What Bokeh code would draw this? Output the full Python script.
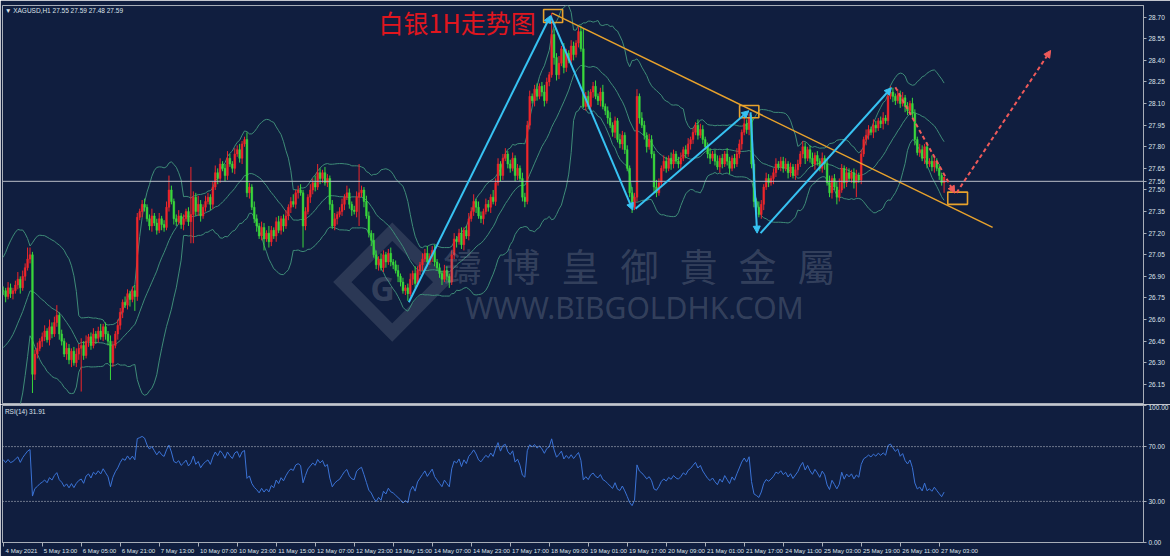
import numpy as np
import pandas as pd
from bokeh.plotting import figure
from bokeh.layouts import column
from bokeh.models import (ColumnDataSource, Range1d, FixedTicker, Span, Label,
                          Arrow, NormalHead, PrintfTickFormatter, LinearAxis)
from bokeh.embed import file_html
from bokeh.resources import INLINE

# ---------------- data (prices in US cents, one row = 16 hourly bars) ----------------
close_c = [
    2680, 2676, 2682, 2678, 2680, 2684, 2688, 2682, 2690, 2696, 2702, 2705, 2622, 2636, 2640, 2645,
    2648, 2652, 2646, 2655, 2650, 2658, 2663, 2650, 2645, 2636, 2640, 2632, 2638, 2630, 2636, 2640,
    2642, 2635, 2645, 2648, 2642, 2650, 2647, 2652, 2648, 2655, 2650, 2645, 2630, 2642, 2650, 2656,
    2665, 2672, 2670, 2678, 2674, 2680, 2676, 2731, 2735, 2740, 2738, 2730, 2725, 2732, 2727, 2722,
    2730, 2726, 2724, 2738, 2750, 2742, 2730, 2728, 2732, 2726, 2730, 2735, 2728, 2733, 2745, 2735,
    2740, 2732, 2738, 2742, 2745, 2740, 2752, 2762, 2758, 2768, 2765, 2760, 2772, 2768, 2765, 2775,
    2778, 2772, 2782, 2785, 2748, 2752, 2738, 2730, 2725, 2718, 2724, 2716, 2720, 2714, 2722, 2718,
    2728, 2722, 2730, 2725, 2732, 2738, 2742, 2740, 2748, 2750, 2748, 2725, 2735, 2745, 2750, 2755,
    2752, 2762, 2758, 2762, 2755, 2758, 2740, 2725, 2730, 2733, 2735, 2740, 2745, 2748, 2740, 2736,
    2735, 2745, 2748, 2750, 2742, 2732, 2720, 2715, 2705, 2698, 2702, 2696, 2705, 2700, 2706, 2700,
    2698, 2694, 2690, 2686, 2680, 2682, 2678, 2688, 2692, 2685, 2694, 2698, 2702, 2706, 2700, 2704,
    2708, 2700, 2696, 2692, 2688, 2694, 2690, 2686, 2705, 2716, 2714, 2720, 2712, 2722, 2718, 2730,
    2735, 2742, 2738, 2732, 2730, 2735, 2740, 2738, 2745, 2742, 2755, 2768, 2760, 2772, 2775, 2768,
    2765, 2772, 2760, 2765, 2758, 2745, 2742, 2795, 2815, 2812, 2820, 2815, 2822, 2818, 2812, 2825,
    2830, 2858, 2842, 2830, 2838, 2848, 2835, 2845, 2840, 2850, 2844, 2852, 2860, 2848, 2808, 2815,
    2808, 2818, 2822, 2815, 2812, 2818, 2808, 2805, 2800, 2795, 2790, 2798, 2785, 2782, 2788, 2778,
    2765, 2748, 2738, 2745, 2815, 2800, 2795, 2788, 2780, 2785, 2775, 2752, 2748, 2755, 2765, 2770,
    2765, 2772, 2768, 2775, 2770, 2768, 2772, 2778, 2775, 2782, 2785, 2790, 2795, 2788, 2792, 2785,
    2780, 2775, 2772, 2775, 2770, 2766, 2772, 2768, 2775, 2770, 2765, 2772, 2768, 2775, 2782, 2790,
    2796, 2792, 2800, 2768, 2742, 2738, 2733, 2740, 2752, 2758, 2755, 2758, 2762, 2768, 2766, 2770,
    2765, 2768, 2762, 2766, 2760, 2764, 2768, 2775, 2780, 2772, 2778, 2772, 2768, 2774, 2770, 2765,
    2772, 2768, 2755, 2748, 2758, 2752, 2745, 2750, 2765, 2755, 2762, 2758, 2762, 2755, 2760, 2757,
    2775, 2785, 2788, 2792, 2790, 2795, 2793, 2798, 2796, 2800, 2798, 2815, 2818, 2815, 2812, 2816,
    2810, 2814, 2808, 2805, 2810, 2803, 2785, 2776, 2778, 2772, 2780, 2768, 2770, 2766, 2770, 2765,
    2760, 2755, 2759,
]
upper_wick_c = [
    3, 2, 4, 3, 2, 3, 5, 2, 4, 3, 8, 5, 2, 3, 4, 2,
    3, 4, 2, 5, 3, 4, 7, 2, 3, 2, 4, 3, 2, 3, 4, 3,
    5, 3, 4, 2, 3, 4, 2, 3, 5, 2, 3, 2, 4, 3, 2, 4,
    3, 2, 4, 3, 2, 3, 4, 3, 2, 3, 4, 2, 3, 5, 2, 3,
    4, 2, 3, 4, 10, 3, 2, 3, 4, 2, 3, 2, 3, 33, 4, 3,
    6, 3, 2, 4, 3, 2, 4, 5, 3, 4, 2, 3, 5, 3, 2, 4,
    3, 4, 2, 2, 5, 3, 2, 4, 3, 2, 4, 3, 2, 5, 3, 2,
    3, 4, 2, 3, 4, 2, 3, 5, 2, 3, 4, 2, 3, 2, 4, 3,
    5, 6, 3, 2, 4, 3, 2, 3, 4, 2, 3, 4, 2, 5, 3, 2,
    3, 4, 20, 3, 2, 4, 3, 2, 5, 3, 2, 4, 3, 2, 3, 4,
    2, 3, 4, 2, 3, 2, 3, 4, 2, 5, 3, 2, 4, 3, 5, 2,
    3, 4, 2, 3, 2, 4, 3, 2, 3, 4, 2, 3, 4, 2, 3, 4,
    3, 5, 2, 4, 3, 2, 4, 3, 2, 5, 3, 4, 2, 3, 4, 2,
    3, 4, 2, 3, 2, 4, 3, 3, 4, 2, 3, 4, 2, 3, 5, 3,
    2, 15, 4, 3, 5, 2, 4, 3, 2, 4, 3, 2, 3, 4, 14, 3,
    4, 2, 3, 4, 2, 3, 5, 2, 3, 4, 2, 3, 2, 4, 3, 2,
    3, 2, 4, 3, 5, 2, 4, 3, 2, 4, 3, 2, 5, 3, 2, 4,
    3, 2, 4, 3, 2, 3, 4, 2, 3, 4, 2, 3, 2, 4, 4, 3,
    2, 3, 4, 2, 3, 4, 2, 3, 2, 4, 3, 2, 3, 4, 3, 2,
    4, 3, 3, 2, 3, 2, 4, 3, 2, 4, 3, 2, 3, 4, 2, 3,
    3, 4, 2, 3, 2, 4, 3, 2, 4, 3, 2, 3, 4, 2, 3, 2,
    4, 2, 3, 5, 2, 3, 4, 8, 3, 2, 4, 3, 2, 3, 4, 2,
    3, 2, 4, 3, 2, 4, 3, 2, 3, 4, 2, 3, 4, 3, 2, 4,
    3, 4, 2, 3, 2, 4, 3, 2, 4, 3, 2, 3, 2, 4, 3, 2,
    3, 2, 0,
]
lower_wick_c = [
    3, 4, 2, 3, 4, 2, 3, 4, 2, 3, 2, 3, 13, 4, 3, 2,
    4, 3, 2, 4, 3, 2, 3, 4, 3, 2, 4, 3, 5, 2, 3, 4,
    30, 3, 2, 4, 3, 2, 4, 3, 2, 3, 4, 3, 12, 3, 2, 4,
    3, 4, 2, 3, 5, 2, 10, 3, 2, 4, 3, 2, 3, 4, 2, 3,
    2, 4, 3, 2, 3, 2, 4, 3, 2, 3, 4, 2, 3, 15, 20, 3,
    3, 4, 2, 3, 2, 4, 3, 2, 4, 3, 2, 4, 3, 2, 3, 4,
    2, 3, 4, 2, 3, 4, 2, 3, 4, 2, 3, 8, 2, 4, 3, 2,
    4, 2, 3, 4, 2, 3, 4, 2, 3, 4, 2, 15, 3, 2, 4, 3,
    3, 2, 4, 3, 2, 3, 4, 2, 3, 4, 2, 3, 4, 2, 3, 4,
    2, 4, 20, 3, 4, 2, 3, 4, 2, 3, 4, 2, 3, 4, 2, 3,
    3, 2, 4, 3, 2, 3, 5, 2, 4, 3, 2, 3, 4, 2, 3, 2,
    4, 3, 2, 3, 4, 2, 3, 4, 2, 3, 4, 2, 3, 4, 2, 3,
    2, 3, 4, 2, 3, 4, 2, 3, 4, 2, 3, 2, 4, 3, 2, 3,
    3, 2, 4, 3, 2, 3, 4, 2, 3, 2, 4, 3, 2, 3, 4, 2,
    3, 2, 5, 4, 3, 2, 4, 3, 2, 3, 4, 2, 3, 2, 1, 3,
    2, 3, 4, 2, 3, 4, 2, 3, 4, 2, 3, 4, 2, 3, 4, 3,
    2, 3, 4, 2, 3, 4, 2, 3, 4, 2, 3, 4, 3, 2, 3, 2,
    3, 2, 4, 3, 2, 3, 4, 2, 3, 2, 4, 3, 2, 3, 2, 3,
    2, 3, 4, 2, 3, 2, 4, 3, 2, 3, 4, 2, 3, 2, 3, 4,
    2, 3, 4, 3, 4, 3, 2, 3, 4, 2, 3, 2, 4, 3, 2, 3,
    3, 2, 4, 3, 2, 3, 4, 2, 3, 4, 2, 3, 2, 4, 3, 2,
    3, 4, 2, 3, 4, 2, 5, 3, 2, 4, 3, 2, 3, 4, 10, 2,
    3, 2, 4, 3, 2, 4, 3, 2, 3, 4, 2, 3, 2, 4, 3, 2,
    3, 2, 4, 3, 2, 3, 4, 2, 3, 2, 4, 3, 2, 3, 4, 2,
    3, 2, 7,
]
# closes of the 19 bars before the first visible one (only used to seed the indicators)
pre_close = [26.45, 26.40, 26.30, 26.20, 26.10, 26.05, 26.02, 26.08, 26.00, 26.05,
             26.12, 26.30, 26.55, 26.70, 26.78, 26.82, 26.75, 26.85, 26.80]

time_labels = ["4 May 2021", "5 May 13:00", "6 May 05:00", "6 May 21:00", "7 May 13:00",
               "10 May 07:00", "10 May 23:00", "11 May 15:00", "12 May 07:00", "12 May 23:00",
               "13 May 15:00", "14 May 07:00", "14 May 23:00", "17 May 17:00", "18 May 09:00",
               "19 May 01:00", "19 May 17:00", "20 May 09:00", "21 May 01:00", "21 May 17:00",
               "24 May 11:00", "25 May 03:00", "25 May 19:00", "26 May 11:00", "27 May 03:00"]
time_tick_bars = [16 * k for k in range(len(time_labels))]
price_ticks = [26.15, 26.30, 26.45, 26.60, 26.75, 26.90, 27.05, 27.20, 27.35, 27.50,
               27.65, 27.80, 27.95, 28.10, 28.25, 28.40, 28.55, 28.70]
rsi_ticks = [0, 30, 70, 100]
last_price = 27.56

# analyst drawings (bar index, price)
zig_x0 = [166.4, 224.5, 259.4, 306.6, 310.7]
zig_y0 = [26.72, 28.71, 27.37, 28.04, 27.20]
zig_x1 = [224.5, 258.3, 305.9, 309.3, 364.4]
zig_y1 = [28.71, 27.36, 28.05, 27.20, 28.21]
trend_x = [225.2, 405.9]
trend_y = [28.728, 27.24]
box_left = [221.7, 302.1, 387.5]
box_right = [229.5, 310.0, 395.6]
box_top = [28.753, 28.087, 27.485]
box_bottom = [28.663, 28.001, 27.400]
red_x0 = [366.0, 391.1]
red_y0 = [28.214, 27.48]
red_x1 = [390.3, 429.7]
red_y1 = [27.478, 28.469]
watermark_chars = ["鑄", "博", "皇", "御", "貴", "金", "屬"]

# ---------------- derived series ----------------
close = np.array(close_c) / 100.0
n = len(close)
open_ = np.concatenate([[pre_close[-1]], close[:-1]])
uw = np.array(upper_wick_c[:n] + [0] * max(0, n - len(upper_wick_c))) / 100.0
lw = np.array(lower_wick_c[:n] + [0] * max(0, n - len(lower_wick_c))) / 100.0
high = np.maximum(open_, close) + uw
low = np.minimum(open_, close) - lw
x = np.arange(n)

UP = "#f0262b"
DOWN = "#3ad83c"
colors = [UP if c > o else DOWN for o, c in zip(open_, close)]

allc = pd.Series(np.concatenate([pre_close, close]))
mid = allc.rolling(20).mean().to_numpy()[-n:]
sd = allc.rolling(20).std(ddof=0).to_numpy()[-n:]
upper = mid + 2 * sd
lower = mid - 2 * sd

a = allc.to_numpy()
d = np.diff(a)
g = np.where(d > 0, d, 0.0)
l = np.where(d < 0, -d, 0.0)
rsi_all = np.full(len(a), np.nan)
ag = g[:14].mean()
al = l[:14].mean()
rsi_all[14] = 100 - 100 / (1 + ag / al) if al > 0 else 100
for i in range(15, len(a)):
    ag = (ag * 13 + g[i - 1]) / 14
    al = (al * 13 + l[i - 1]) / 14
    rsi_all[i] = 100 - 100 / (1 + ag / al) if al > 0 else 100
rsi = rsi_all[-n:]

# ---------------- styling ----------------
BG = "#101e3f"
BAND = "#3f8c78"
RSI_C = "#3b73d6"
BLUE = "#37c2f2"
ORANGE = "#e8a22c"
REDA = "#ef5a5a"
AXIS = "#a8aeb8"
TXT = "#dfe3ea"
WM = "#8c94a6"
FONT = "Liberation Sans"
FS = 6.5
FS_T = 6.1

FW = 1141                      # frame width in px
X0, X1 = -0.29, 467.8
PX_PER_BAR = FW / (X1 - X0)

def bar_to_px(b):
    return (b - X0) * PX_PER_BAR

def px_to_bar(px):
    return px / PX_PER_BAR + X0

p1 = figure(frame_width=FW, frame_height=398, min_border_left=2, min_border_right=27,
            min_border_top=5, min_border_bottom=1,
            x_range=Range1d(X0, X1), y_range=Range1d(26.017, 28.781),
            x_axis_location=None, y_axis_location="right",
            output_backend="svg", toolbar_location=None,
            background_fill_color=BG, border_fill_color=BG,
            outline_line_color=AXIS, outline_line_width=1)
p1.grid.visible = False

def style_yaxis(ax, ticks):
    ax.ticker = FixedTicker(ticks=ticks)
    ax.formatter = PrintfTickFormatter(format="%.2f")
    ax.axis_line_color = AXIS
    ax.major_tick_line_color = AXIS
    ax.minor_tick_line_color = None
    ax.major_tick_in = 0
    ax.major_tick_out = 3
    ax.major_label_standoff = 2
    ax.major_label_text_color = TXT
    ax.major_label_text_font = FONT
    ax.major_label_text_font_size = "%gpx" % FS

style_yaxis(p1.yaxis[0], price_ticks + [last_price])

# watermark (drawn first, under the candles)
logo_cx, logo_cy, logo_hw, logo_hh = 159.6, 26.86, 20.5, 0.35
p1.patch([logo_cx - logo_hw, logo_cx, logo_cx + logo_hw, logo_cx],
         [logo_cy, logo_cy + logo_hh, logo_cy, logo_cy - logo_hh],
         fill_alpha=0, line_color=WM, line_alpha=0.22, line_width=13, line_join="miter")
p1.add_layout(Label(x=logo_cx - 4, y=logo_cy - 0.04, text="G", text_align="center",
                    text_baseline="middle", text_font="Noto Sans", text_font_style="bold",
                    text_font_size="34px", text_color=WM, text_alpha=0.28))
wm_left_px, wm_pitch_px = 441, 59.0
for k, ch in enumerate(watermark_chars):
    p1.add_layout(Label(x=px_to_bar(wm_left_px + k * wm_pitch_px), y=27.17, text=ch,
                        text_baseline="top", text_font="Noto Sans CJK TC",
                        text_font_size="38px", text_color=WM, text_alpha=0.30))
p1.add_layout(Label(x=189.5, y=26.825, text="WWW.BIBGOLDHK.COM", text_baseline="top",
                    text_font="Noto Sans", text_font_size="30px",
                    text_color=WM, text_alpha=0.30))

# Bollinger bands
p1.line(x, upper, line_color=BAND, line_width=1)
p1.line(x, mid, line_color=BAND, line_width=1)
p1.line(x, lower, line_color=BAND, line_width=1)

# candles
src = ColumnDataSource(dict(x=x, o=open_, c=close, h=high, l=low, col=colors))
p1.segment(x0="x", y0="l", x1="x", y1="h", line_color="col", line_width=1, source=src)
p1.vbar(x="x", bottom="o", top="c", width=0.7, fill_color="col", line_color="col",
        line_width=0.5, source=src)

# current price line
p1.add_layout(Span(location=last_price, dimension="width", line_color="#b9bec8", line_width=1))

# analyst drawings
p1.line(trend_x, trend_y, line_color=ORANGE, line_width=1.5)
p1.quad(left=box_left, right=box_right, top=box_top, bottom=box_bottom,
        fill_alpha=0, line_color=ORANGE, line_width=1.6)
zsrc = ColumnDataSource(dict(x0=zig_x0, y0=zig_y0, x1=zig_x1, y1=zig_y1))
p1.add_layout(Arrow(end=NormalHead(size=7, fill_color=BLUE, line_color=BLUE, line_width=1),
                    x_start="x0", y_start="y0", x_end="x1", y_end="y1", source=zsrc,
                    line_color=BLUE, line_width=2))
rsrc = ColumnDataSource(dict(x0=red_x0, y0=red_y0, x1=red_x1, y1=red_y1))
p1.add_layout(Arrow(end=NormalHead(size=7, fill_color=REDA, line_color=REDA, line_width=1),
                    x_start="x0", y_start="y0", x_end="x1", y_end="y1", source=rsrc,
                    line_color=REDA, line_width=2, line_dash="4 3"))

# texts
p1.add_layout(Label(x=154.0, y=28.666, text="白银1H走势图", text_baseline="middle",
                    text_font="Noto Sans CJK SC", text_font_size="25px", text_color="#e0161e"))
p1.add_layout(Label(x=0.7, y=28.768, text="\u25bc XAGUSD,H1  27.55 27.59 27.48 27.59",
                    text_baseline="top", text_font=FONT, text_font_size="%gpx" % FS,
                    text_color=TXT))

# ---------------- RSI panel ----------------
p2 = figure(frame_width=FW, frame_height=137, min_border_left=2, min_border_right=27,
            min_border_top=1, min_border_bottom=13,
            x_range=p1.x_range, y_range=Range1d(0, 100), y_axis_location="right",
            output_backend="svg", toolbar_location=None,
            background_fill_color=BG, border_fill_color=BG,
            outline_line_color=AXIS, outline_line_width=1)
p2.grid.visible = False
style_yaxis(p2.yaxis[0], rsi_ticks)

# tick marks (first bottom axis)
xa = p2.xaxis[0]
xa.ticker = FixedTicker(ticks=time_tick_bars)
xa.axis_line_color = AXIS
xa.major_tick_line_color = AXIS
xa.minor_tick_line_color = None
xa.major_tick_in = 0
xa.major_tick_out = 4
xa.major_label_standoff = 0
xa.major_label_text_font_size = "1px"
xa.major_label_text_color = None

# left-aligned time labels (second bottom axis, in pixel units)
CW = {"M": 0.833, "a": 0.556, "y": 0.5, " ": 0.278, ":": 0.278}
def text_w(s, size=FS_T):
    return sum(CW.get(ch, 0.556) for ch in s) * size

p2.extra_x_ranges = {"px": Range1d(0, FW)}
centers = [int(round(bar_to_px(b) + 2 + text_w(t) / 2)) for b, t in zip(time_tick_bars, time_labels)]
la = LinearAxis(x_range_name="px", ticker=FixedTicker(ticks=centers),
                major_label_overrides={c: t for c, t in zip(centers, time_labels)})
la.axis_line_color = None
la.major_tick_line_color = None
la.minor_tick_line_color = None
la.major_tick_in = 0
la.major_tick_out = 0
la.major_label_standoff = 0
la.major_label_text_color = TXT
la.major_label_text_font = FONT
la.major_label_text_font_size = "%gpx" % FS_T
p2.add_layout(la, "below")

for lev in (70, 30):
    p2.add_layout(Span(location=lev, dimension="width", line_color="#c8ccd4",
                       line_width=1, line_dash="1 2"))
p2.line(x, rsi, line_color=RSI_C, line_width=1)
p2.add_layout(Label(x=0.7, y=98.0, text="RSI(14) 31.91", text_baseline="top",
                    text_font=FONT, text_font_size="%gpx" % FS, text_color=TXT))

layout = column(p1, p2, spacing=0)
open("out.html", "w").write(file_html(layout, INLINE))
